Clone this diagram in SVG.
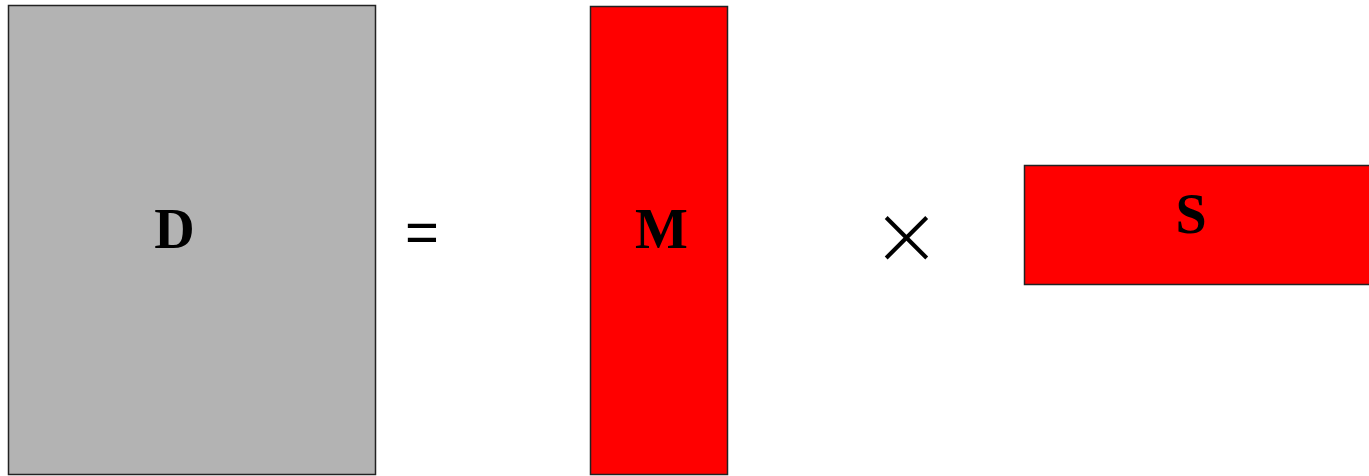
<svg xmlns="http://www.w3.org/2000/svg" width="1369" height="476" viewBox="0 0 1369 476">
<style>
.box{stroke:#222;stroke-width:1.5}
.lbl{font-family:"Liberation Serif",serif;font-weight:bold;font-size:56px;fill:#000;text-anchor:middle}
.op{font-family:"Liberation Sans",sans-serif;font-size:58px;fill:#000;text-anchor:middle}
</style>
<rect width="1369" height="476" fill="#fff"/>
<g id="D"><rect class="box" x="8.5" y="5.5" width="367" height="469" fill="#b3b3b3"/><text class="lbl" x="174.5" y="248">D</text></g>
<g id="eq"><text class="op" x="422" y="252">=</text></g>
<g id="M"><rect class="box" x="590.5" y="6.5" width="137" height="468" fill="#ff0000"/><text class="lbl" x="661.5" y="248">M</text></g>
<g id="times"><text x="906.5" y="264" style="font-family:'DejaVu Sans',sans-serif;font-weight:200;font-size:84px;text-anchor:middle;fill:#000">×</text></g>
<g id="S"><rect class="box" x="1024.5" y="165.5" width="350" height="119" fill="#ff0000"/><text class="lbl" x="1191" y="233">S</text></g>
<g id="connectors"/>
</svg>
